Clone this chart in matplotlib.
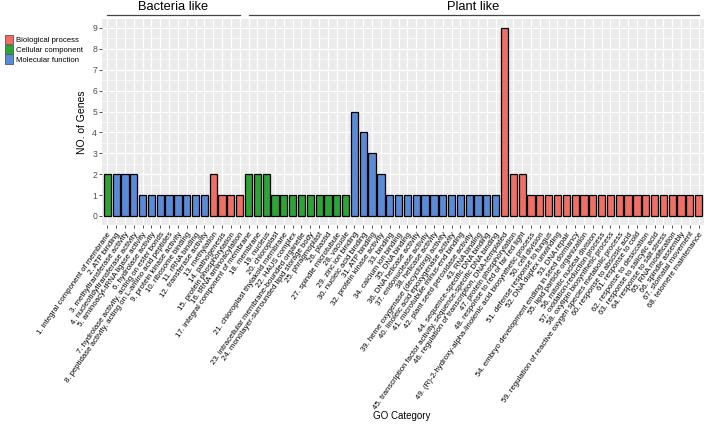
import matplotlib
matplotlib.use("Agg")
import matplotlib.pyplot as plt
import matplotlib.transforms as mtransforms
from matplotlib.patches import Patch

plt.rcParams['font.family'] = ['Liberation Sans', 'DejaVu Sans']

# GO terms (x tick labels)
terms = [
    "1. integral component of membrane", "2. ATP binding",
    "3. methyltransferase activity", "4. nucleotidyltransferase activity",
    "5. aminoacyl-tRNA ligase activity", "6. hydrolase activity",
    "7. hydrolase activity, acting on ester bonds",
    "8. peptidase activity, acting on L-amino acid peptides",
    "9. protein kinase activity", "10. ribosome binding", "11. rRNA binding",
    "12. transferase activity", "13. methylation", "14. pathogenesis",
    "15. protein phosphorylation", "16. tRNA aminoacylation",
    "17. integral component of membrane", "18. membrane", "19. nucleus",
    "20. chloroplast", "21. chloroplast thylakoid membrane", "22. HAUS complex",
    "23. intracellular membrane-bounded organelle",
    "24. monolayer-surrounded lipid storage body", "25. phragmoplast",
    "26. plastid", "27. spindle microtubule", "28. vacuole",
    "29. zinc ion binding", "30. nucleic acid binding", "31. ATP binding",
    "32. protein kinase activity", "33. binding", "34. calcium ion binding",
    "35. DNA binding", "36. DNA helicase activity", "37. endonuclease activity",
    "38. helicase activity", "39. heme oxygenase (decyclizing) activity",
    "40. linoleic acid epoxygenase activity",
    "41. microtubule minus-end binding", "42. plant seed peroxidase activity",
    "43. RNA binding", "44. sequence-specific DNA binding",
    "45. transcription factor activity, sequence-specific DNA binding",
    "46. regulation of transcription, DNA-templated",
    "47. protein phosphorylation", "48. response to red or far red light",
    "49. (R)-2-hydroxy-alpha-linolenic acid biosynthetic process",
    "50. cell division", "51. defense response to fungus",
    "52. DNA duplex unwinding", "53. DNA repair",
    "54. embryo development ending in seed dormancy",
    "55. lipid particle organization", "56. mitotic nuclear division",
    "57. oxidation-reduction process", "58. oxylipin biosynthetic process",
    "59. regulation of reactive oxygen species metabolic process",
    "60. response to abscisic acid", "61. response to cold",
    "62. response to desiccation", "63. response to salicylic acid",
    "64. response to salt stress", "65. RNA modification",
    "66. spindle assembly", "67. stomatal movement", "68. telomere maintenance",
]

# B = biological process, C = cellular component, M = molecular function
groups = (["C"] + ["M"] * 11 + ["B"] * 4 +
          ["C"] * 12 + ["M"] * 17 + ["B"] * 23)

genes = ([2, 2, 2, 2, 1, 1, 1, 1, 1, 1, 1, 1, 2, 1, 1, 1] +
         [2, 2, 2, 1, 1, 1, 1, 1, 1, 1, 1, 1] +
         [5, 4, 3, 2] + [1] * 13 +
         [9, 2, 2] + [1] * 20)

sections = [("Bacteria like", 1, 16), ("Plant like", 17, 68)]

group_names = {"B": "Biological process", "C": "Cellular component",
               "M": "Molecular function"}
group_colors = {"B": "#EE6F65", "C": "#2EA338", "M": "#5B8BD6"}

W, H = 708, 424
fig = plt.figure(figsize=(W / 100, H / 100), dpi=100)
ax = fig.add_axes([102 / W, 1 - 225.4 / H, 602 / W, 206.8 / H])
ax.set_facecolor("#EBEBEB")

x = list(range(len(terms)))
ax.bar(x, genes, width=0.82, color=[group_colors[g] for g in groups],
       edgecolor="black", linewidth=0.9, zorder=3)

ax.set_xlim(-0.6, len(terms) - 0.4)
ax.set_ylim(-0.45, 9.45)
ax.set_yticks(range(10))
ax.set_yticks([i + 0.5 for i in range(9)], minor=True)
ax.set_xticks(x)
ax.set_xticklabels(terms, rotation=55, ha="right", va="top",
                   rotation_mode="anchor", fontsize=5.6)
ax.tick_params(axis="x", length=2, width=0.6, color="#333333", pad=2)
ax.tick_params(axis="y", length=2, width=0.6, color="#333333",
               labelsize=6.2, labelcolor="#4D4D4D", pad=1.5)
ax.tick_params(axis="y", which="minor", length=0)
ax.grid(True, which="major", color="white", linewidth=0.9, zorder=0)
ax.grid(True, which="minor", axis="y", color="white", linewidth=0.5, zorder=0)
ax.set_axisbelow(True)
for s in ax.spines.values():
    s.set_visible(False)

ax.set_ylabel("NO. of Genes", fontsize=7.5, labelpad=4)
fig.text(402 / W, 1 - 416 / H, "GO Category", fontsize=7,
         ha="center", va="center")

# section brackets above the panel
tr = mtransforms.blended_transform_factory(ax.transData, fig.transFigure)
for name, a, b in sections:
    ax.plot([a - 1, b - 1], [1 - 14.5 / H] * 2, color="#444444",
            linewidth=0.9, transform=tr, clip_on=False)
    ax.text((a + b) / 2 - 1, 1 - 7.5 / H, name, transform=tr,
            ha="center", va="center", fontsize=9.3)

handles = [Patch(facecolor=group_colors[k], edgecolor="#555555",
                 linewidth=0.6, label=group_names[k]) for k in ["B", "C", "M"]]
fig.legend(handles=handles, loc="upper left", bbox_to_anchor=(0.0, 1 - 30 / H),
           frameon=False, fontsize=5.6, handlelength=1.1, handleheight=1.5,
           handletextpad=0.3, labelspacing=0.05, borderaxespad=0.2)

fig.savefig("out.png", dpi=100)
